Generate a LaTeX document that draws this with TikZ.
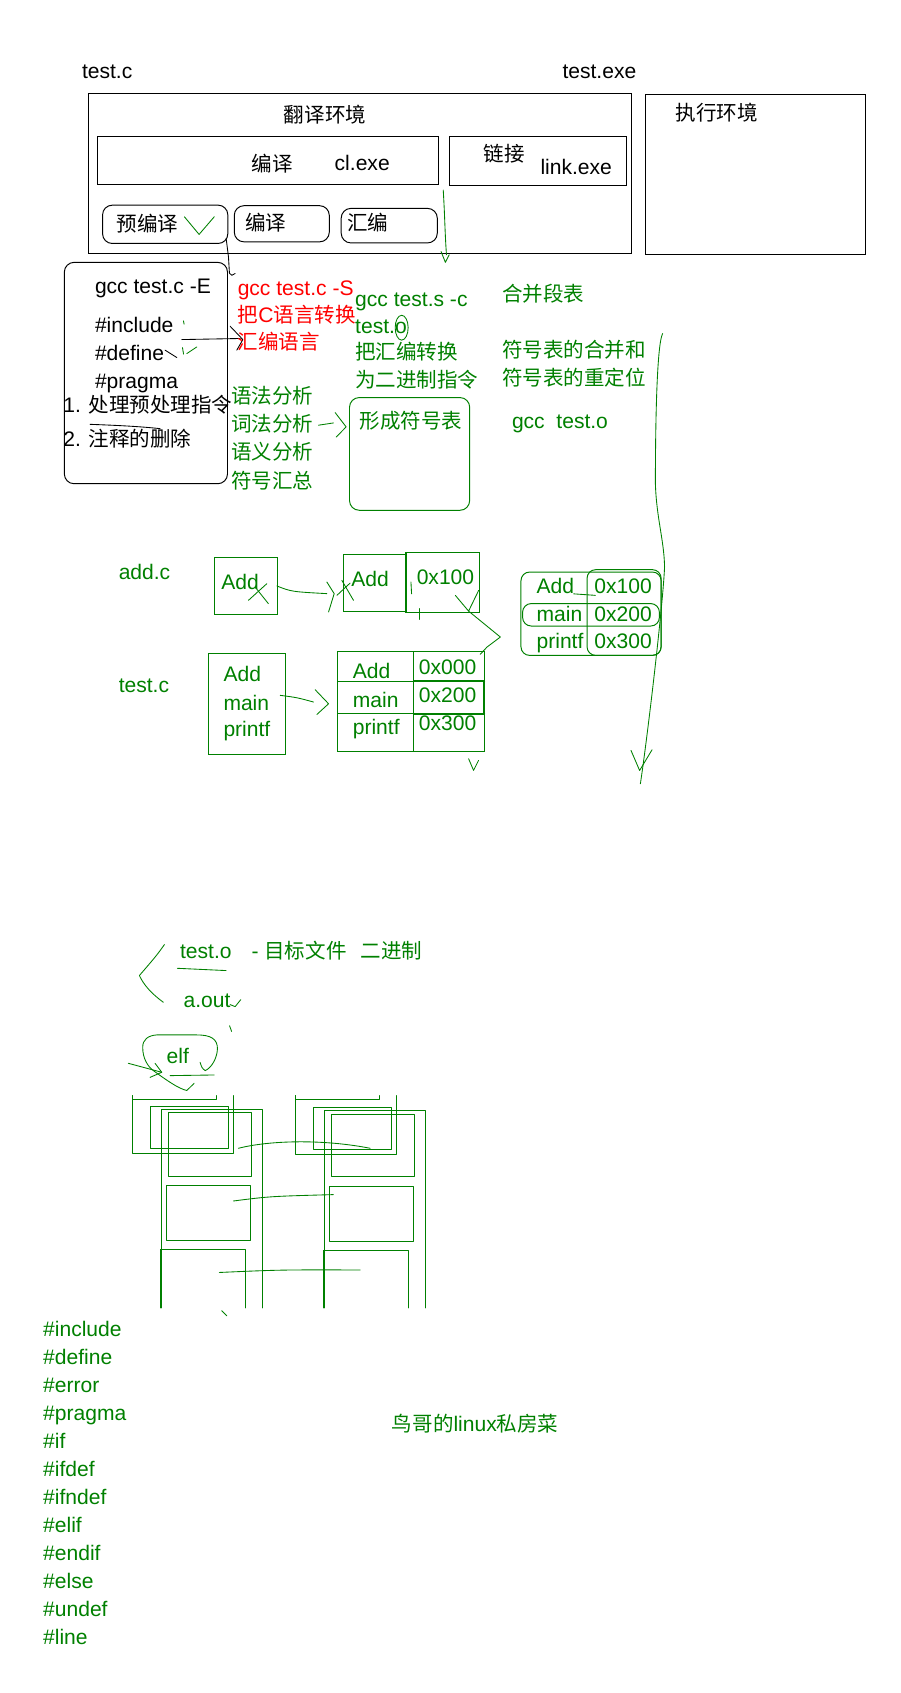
\documentclass[tikz,border=0pt]{standalone}
\usepackage{fontspec}
\setmainfont{Liberation Sans}
\newfontfamily\cjk[Scale=0.975]{Noto Sans CJK SC}
\newcommand\zh[1]{{\cjk #1}}
\definecolor{pg}{RGB}{0,128,0}
\definecolor{pr}{RGB}{255,0,0}
\tikzset{
 t/.style={anchor=base west, inner sep=0pt, outer sep=0pt, font=\fontsize{19.5}{23}\selectfont},
 tg/.style={t, text=pg},
 bb/.style={draw=black, line width=0.9pt, inner sep=0pt, outer sep=0pt},
 gb/.style={draw=pg, line width=0.9pt, inner sep=0pt, outer sep=0pt},
 gl/.style={draw=pg, line width=0.8pt, line cap=round, line join=round},
 kl/.style={draw=black, line width=0.8pt, line cap=round, line join=round},
}
\newcommand\bx[6]{\node[#6, minimum width={(#4)-(#2)}, minimum height={(#5)-(#3)}] (#1) at ({((#2)+(#4))/2},{((#3)+(#5))/2}) {};}
\begin{document}
\begin{tikzpicture}[x=1pt,y=-1pt]
\path[use as bounding box] (0,0) rectangle (834,1568);
% ---------- top ----------
\node[t] (tc) at (76,73) {test.c};
\node[t] (te) at (521,73) {test.exe};
\bx{trans}{82}{87}{585}{235}{bb}
\node[t] (transl) at (263,113.5) {\zh{翻译环境}};
\bx{comp}{90}{126}{406}{171}{bb}
\node[t] (compl) at (233,159) {\zh{编译}};
\node[t] (cl) at (310,157.5) {cl.exe};
\bx{link}{416}{126.5}{580}{171.5}{bb}
\node[t] (linkl) at (448,150) {\zh{链接}};
\node[t] (linke) at (500.6,162) {link.exe};
\bx{exec}{598}{87.5}{802}{235.5}{bb}
\node[t] (execl) at (626,112) {\zh{执行环境}};
\bx{pre}{95}{190}{211}{225.5}{bb, rounded corners=9}
\node[t] (prel) at (108,214) {\zh{预编译}};
\bx{cmp}{217}{190.5}{305}{224}{bb, rounded corners=9}
\node[t] (cmpl) at (227,213.5) {\zh{编译}};
\bx{asm}{316}{193}{405}{225}{bb, rounded corners=9}
\node[t] (asml) at (321.5,213.5) {\zh{汇编}};
\draw[gl] (170.8,200.8) -- (184.4,217.1) -- (198.4,200.8);
\draw[gl] (410.5,176) .. controls (412,200) and (412,215) .. (413.5,236);
\draw[gl] (408.5,233) -- (412.5,243) -- (416,236);
\draw[kl] (209.5,221) -- (211.6,238) -- (212.5,253) -- (214.7,255) -- (217.8,253.3);
% ---------- preprocess box ----------
\bx{pp}{59.6}{243}{210.7}{448}{bb, rounded corners=9}
\node[t] (e1) at (88,272) {gcc test.c -E};
\node[t] (e2) at (88,308) {\#include};
\node[t] (e3) at (88,334) {\#define};
\node[t] (e4) at (88,359.5) {\#pragma};
\node[t] (e5) at (58.7,382.5) {1. \zh{处理预处理指令}};
\node[t] (e6) at (58.7,413.5) {2. \zh{注释的删除}};
\draw[kl] (168.4,314.5) -- (222.4,313.5);
\draw[kl] (213.1,302.1) -- (224.9,314.5) -- (219.3,324.3);
\draw[kl] (152.9,324.3) .. controls (158,327) .. (163.7,331.1);
\draw[gl] (169,322) -- (170,328);
\draw[gl] (173,327.5) -- (182.3,321.3);
\draw[gl] (169.9,297.2) -- (170.5,300.2);
\draw[kl] (83.4,393) .. controls (110,394) and (130,395) .. (148.3,397);
% ---------- red ----------
\node[t, text=pr] (s1) at (220.2,273.4) {gcc test.c -S};
\node[t, text=pr] (s2) at (220.2,299) {\zh{把}C\zh{语言转换}};
\node[t, text=pr] (s3) at (220.2,324) {\zh{汇编语言}};
% ---------- green upper ----------
\node[tg] (c1) at (329,284.2) {gcc test.s -c};
\node[tg] (c2) at (329,309) {test.o};
\node[tg] (c3) at (329,333) {\zh{把汇编转换}};
\node[tg] (c4) at (329,359) {\zh{为二进制指令}};
\draw[gl] (372,303.5) ellipse (6 and 11.5);
\node[tg] (l1) at (465,279) {\zh{合并段表}};
\node[tg] (l2) at (465,331) {\zh{符号表的合并和}};
\node[tg] (l3) at (465,357) {\zh{符号表的重定位}};
\node[tg] (l4) at (474.2,397) {gcc\ \ test.o};
\node[tg] (g1) at (214,373.5) {\zh{语法分析}};
\node[tg] (g2) at (214,400) {\zh{词法分析}};
\node[tg] (g3) at (214,426) {\zh{语义分析}};
\node[tg] (g4) at (214,452) {\zh{符号汇总}};
\bx{sym}{323.7}{368.2}{435}{472.6}{gb, rounded corners=9}
\node[tg] (syml) at (333,397) {\zh{形成符号表}};
\draw[gl] (295,393.8) -- (308.9,391.7);
\draw[gl] (310.4,382.1) -- (320.6,395.4) -- (311.4,404.7);
\draw[gl] (613.7,308.9) .. controls (608,320) and (607,400) .. (607,448) .. controls (608,480) and (615,500) .. (615.5,525) .. controls (614,560) and (600,680) .. (593.1,725.9);
\draw[gl] (584.4,695) -- (592.4,713.6) -- (603.9,694.4);
% ---------- middle ----------
\node[tg] (addc) at (110,537) {add.c};
\bx{a1}{198.3}{516.5}{257}{569}{gb}
\node[tg] (a1l) at (205,546) {Add};
\draw[gl] (230.1,556) -- (247.1,540.6);
\draw[gl] (236.3,543.7) -- (248.6,559.1);
\draw[gl] (256.4,542.7) .. controls (270,548) .. (302.7,549.8);
\draw[gl] (302.7,539) -- (309.5,549.8) -- (304.3,566.8);
\draw[gl] (316.6,537.5) -- (327.4,556);
\draw[gl] (312,551.4) -- (324.3,540);
\bx{a2}{318.2}{514}{376}{566.5}{gb}
\bx{a3}{376}{511.8}{444.2}{567.4}{gb}
\draw[pg, line width=1.8pt] (a3.north west) -- (a3.south west);
\node[tg] (a2l) at (325.5,543.6) {Add};
\node[tg] (a3l) at (386,541.4) {0x100};
\draw[gl] (388.3,563.7) -- (388.3,573.7);
\draw[gl] (380.6,539) -- (381.2,550);
\draw[gl] (421.7,551.4) -- (434,566) -- (443.3,546.8);
\draw[gl] (434,566) -- (463.4,590) -- (451,599.3) -- (444.8,606);
\node[tg] (tc2) at (110,641) {test.c};
\bx{b1}{193}{605.4}{264.4}{698.7}{gb}
\node[tg] (b1a) at (207,631) {Add};
\node[tg] (b1b) at (207,657.8) {main};
\node[tg] (b1c) at (207,682) {printf};
\draw[gl] (259.5,644) .. controls (275,646) .. (290.4,650.2);
\draw[gl] (291.9,638.8) -- (304.3,651.8) -- (293.5,661.7);
\bx{b2}{312.6}{603}{448.8}{696}{gb}
\draw[pg, line width=1.4pt] (383,603) -- (383,696);
\draw[gl] (312.6,630.8) -- (448.8,630.8);
\draw[gl] (312.6,661) -- (448.8,661);
\draw[pg, line width=1.6pt] (383,630.8) rectangle (448,661);
\node[tg] (b2a) at (326.8,628) {Add};
\node[tg] (b2b) at (326.8,655) {main};
\node[tg] (b2c) at (326.8,680.4) {printf};
\node[tg] (b2d) at (388,624.8) {0x000};
\node[tg] (b2e) at (388,651) {0x200};
\node[tg] (b2f) at (388,676.7) {0x300};
\draw[gl] (434,702.7) -- (438.6,713.5) -- (443.2,704.3);
\bx{m1}{482.5}{529.8}{612.3}{607}{gb, rounded corners=8}
\bx{m2}{543.7}{527.6}{612.3}{607}{gb, rounded corners=8}
\bx{m3}{484}{559}{610.7}{579.8}{gb, rounded corners=8}
\node[tg] (m1a) at (497,549.7) {Add};
\node[tg] (m1b) at (497,576) {main};
\node[tg] (m1c) at (497,600.7) {printf};
\node[tg] (m2a) at (550.5,549.7) {0x100};
\node[tg] (m2b) at (550.5,576) {0x200};
\node[tg] (m2c) at (550.5,600.7) {0x300};
\draw[gl] (531.3,550) -- (551.4,551.4);
% ---------- lower ----------
\draw[gl] (152.3,874.8) .. controls (145,885) .. (129.1,903.5) .. controls (133,912) and (140,920) .. (151.3,928.3);
\node[tg] (to) at (166.8,888) {test.o};
\draw[gl] (164.3,896.8) -- (209.4,898.9);
\node[tg] (tod) at (233,888) {- \zh{目标文件}\hspace{13pt}\zh{二进制}};
\node[tg] (ao) at (170,933.5) {a.out};
\draw[gl] (213.1,930.4) -- (217.8,932.3) -- (223,925.8);
\draw[gl] (212.6,950) -- (214.5,955.2);
\node[tg] (elf) at (154.4,985.4) {elf};
\draw[gl] (185.3,983.9) .. controls (187,989) .. (190,991.6) .. controls (196,989) and (201,980) .. (201.4,971.5) .. controls (201.5,962) and (195,958.5) .. (182.2,958.5) -- (145.2,958.5) .. controls (137,959) and (132,963) .. (132.2,970) .. controls (132,980) and (137,988) .. (142.1,991.6) .. controls (155,1001) and (165,1008) .. (173,1010) -- (179.8,1003.3);
\draw[gl] (118.9,984.8) -- (149.8,993.1);
\draw[gl] (139,997.8) -- (149.8,993.1) -- (143.6,984.8);
\draw[gl] (157.5,996.2) -- (198.3,995.6);
% left stack
\draw[gl] (122.6,1014.7) -- (122.6,1017.8) -- (200.8,1017.8) -- (200.8,1014.7);
\draw[gl] (122.6,1014.7) -- (122.6,1067.8) -- (216.2,1067.8) -- (216.2,1014.7);
\draw[gl] (139.3,1024.6) rectangle (211.9,1063.2);
\draw[gl] (149.5,1211.4) -- (149.5,1027.1) -- (243.2,1027.1) -- (243.2,1211.4);
\draw[gl] (156,1030.7) rectangle (232.9,1089.1);
\draw[gl] (154.1,1097.5) rectangle (232,1148.4);
\draw[gl] (148.6,1211.4) -- (148.6,1156.8) -- (227.3,1156.8) -- (227.3,1211.4);
\draw[pg, line width=1.6pt] (148.6,1156.8) -- (148.6,1211.4);
% right stack
\draw[gl] (273.4,1014.7) -- (273.4,1018.7) -- (351.5,1018.7) -- (351.5,1014.7);
\draw[gl] (273.4,1014.7) -- (273.4,1068.8) -- (367.2,1068.8) -- (367.2,1014.7);
\draw[gl] (290.3,1025.2) rectangle (362.6,1064.1);
\draw[gl] (300.5,1211.4) -- (300.5,1028) -- (394.1,1028) -- (394.1,1211.4);
\draw[gl] (307,1031.7) rectangle (384,1090);
\draw[gl] (305.2,1098.4) rectangle (383,1149.3);
\draw[gl] (300,1211.4) -- (300,1157.7) -- (378.3,1157.7) -- (378.3,1211.4);
\draw[pg, line width=1.6pt] (300,1157.7) -- (300,1211.4);
\draw[gl] (220.8,1063.5) .. controls (250,1056) and (300,1055) .. (342.9,1063.5);
\draw[gl] (216.2,1112.3) .. controls (250,1108) .. (308.8,1106.4);
\draw[gl] (203.2,1178.5) .. controls (260,1176) .. (333.6,1176.2);
\draw[gl] (205.4,1214) -- (210,1218.6);
% ---------- list ----------
\foreach \s [count=\i from 0] in {include,define,error,pragma,if,ifdef,ifndef,elif,endif,else,undef,line}
  \node[tg] (d\i) at (40,{1238+25.9*\i}) {\#\s};
\node[tg] (bird) at (363,1326) {\zh{鸟哥的}linux\zh{私房菜}};
\end{tikzpicture}
\end{document}
